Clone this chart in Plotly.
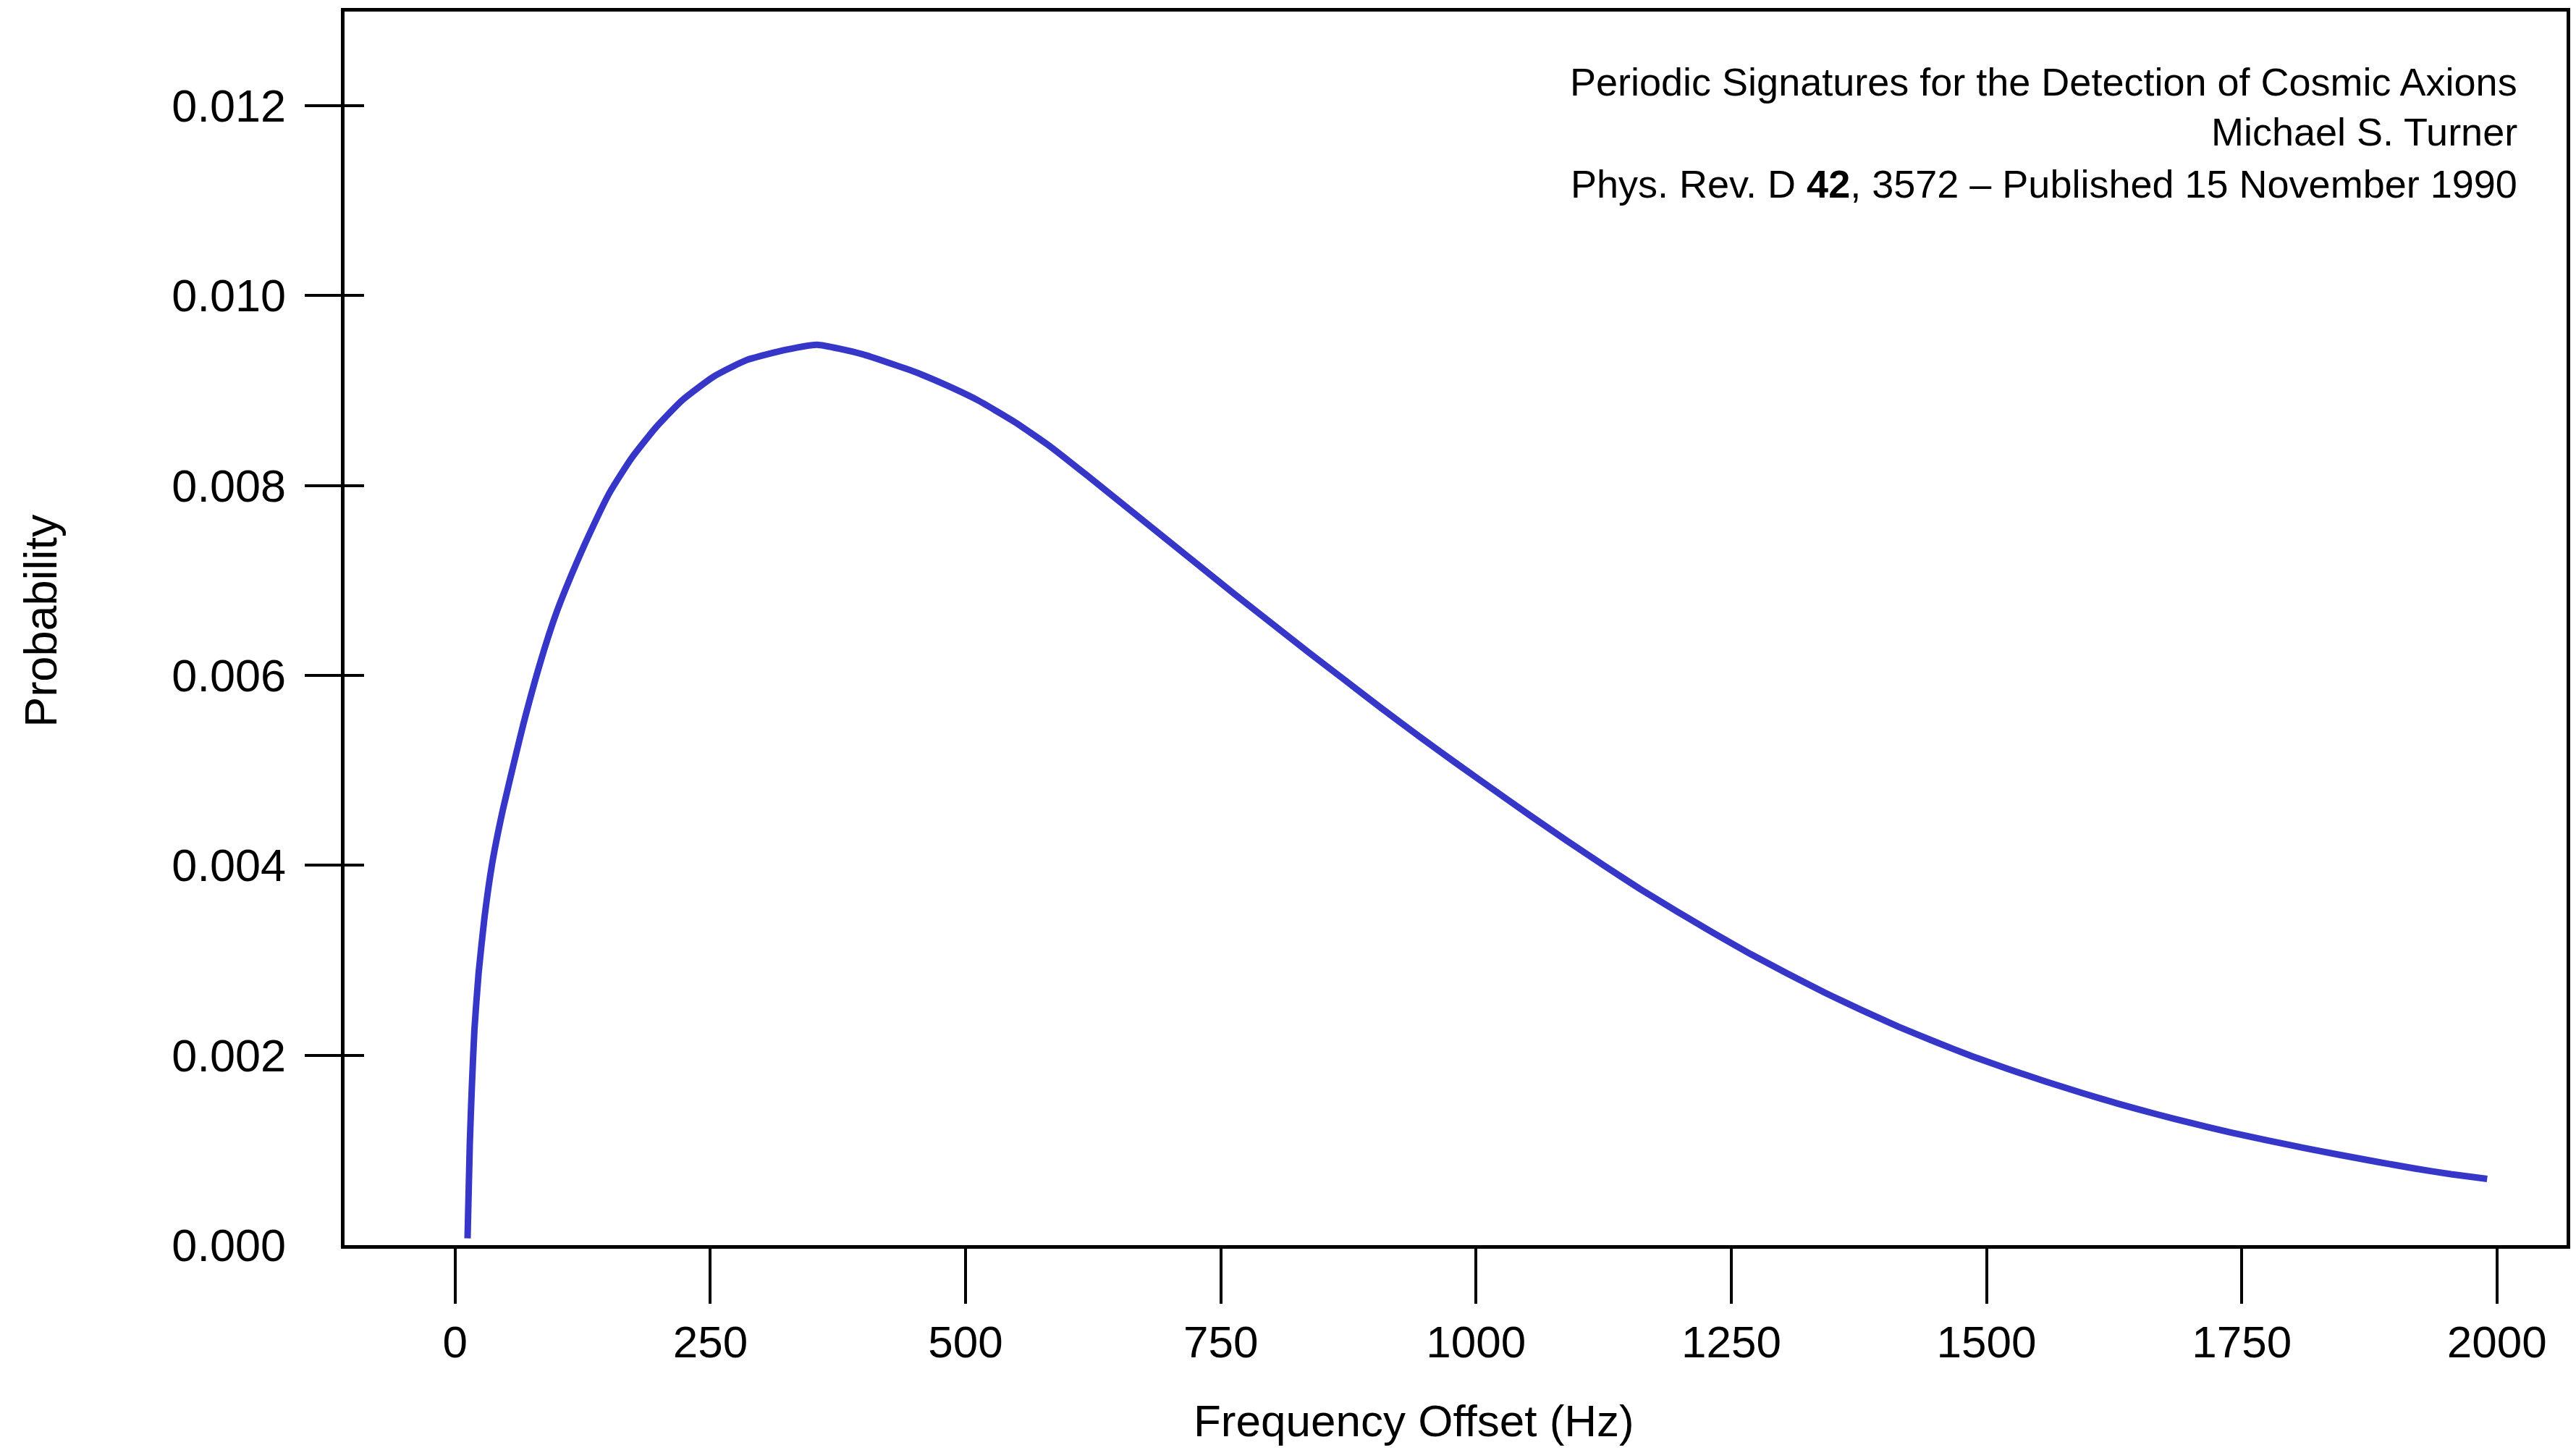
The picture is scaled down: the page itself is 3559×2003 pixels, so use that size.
import plotly.graph_objects as go

# ---- data ----
frequency_hz = [12.2, 14.4, 16.4, 18.9, 23.0, 28.9, 36.3, 46.6, 59.8, 66.9,
                83.9, 99.1, 116.1, 133.1, 151.5, 172.7, 196.8, 222.3, 253.4,
                286.0, 324.2, 354.6, 398.5, 447.3, 474.9, 511.0, 547.1, 583.2,
                619.3, 655.4, 691.5, 727.6, 763.7, 799.8, 835.9, 872.0, 908.1,
                944.2, 980.3, 1016.4, 1052.5, 1088.6, 1124.7, 1160.8, 1196.9,
                1233.0, 1269.1, 1305.2, 1341.3, 1377.4, 1413.5, 1449.6, 1485.7,
                1521.8, 1557.9, 1594.0, 1630.1, 1666.2, 1702.3, 1738.4, 1774.5,
                1810.6, 1846.7, 1882.8, 1918.9, 1955.0, 1990.4]
probability = [0.000071, 0.001068, 0.001666, 0.002264, 0.002862, 0.003460,
               0.004018, 0.004576, 0.005176, 0.005488, 0.006151, 0.006655,
               0.007112, 0.007523, 0.007927, 0.008286, 0.008613, 0.008896,
               0.009147, 0.009322, 0.009429, 0.009482, 0.009383, 0.009208,
               0.009086, 0.008903, 0.008675, 0.008408, 0.008103, 0.007790,
               0.007478, 0.007165, 0.006853, 0.006548, 0.006243, 0.005946,
               0.005648, 0.005359, 0.005077, 0.004802, 0.004528, 0.004261,
               0.004002, 0.003750, 0.003514, 0.003285, 0.003064, 0.002859,
               0.002660, 0.002477, 0.002302, 0.002142, 0.001990, 0.001852,
               0.001723, 0.001601, 0.001486, 0.001380, 0.001281, 0.001189,
               0.001105, 0.001025, 0.000949, 0.000877, 0.000808, 0.000747,
               0.000697]

x_ticks = [0, 250, 500, 750, 1000, 1250, 1500, 1750, 2000]
x_ticktext = ["0", "250", "500", "750", "1000", "1250", "1500", "1750", "2000"]
y_ticks = [0.000, 0.002, 0.004, 0.006, 0.008, 0.010, 0.012]
y_ticktext = ["0.000", "0.002", "0.004", "0.006", "0.008", "0.010", "0.012"]

x_title = "Frequency Offset (Hz)"
y_title = "Probability"
citation_lines = [
    "Periodic Signatures for the Detection of Cosmic Axions",
    "Michael S. Turner",
    "Phys. Rev. D <b>42</b>, 3572 – Published 15 November 1990",
]

# ---- styling ----
FONT = "Liberation Sans, Arial, Helvetica, sans-serif"
X_RANGE = [-108.3, 2068.2]
Y_RANGE = [0.0, 0.01299]
LINE_COLOR = "#3636c8"

fig = go.Figure()
fig.add_trace(go.Scatter(
    x=frequency_hz, y=probability, mode="lines",
    line=dict(color=LINE_COLOR, width=9, shape="spline", smoothing=0.5),
    hoverinfo="skip", showlegend=False,
))
# transparent copies so the overlay axes (inner ticks, labels) get drawn
for ax in ("y2", "y3"):
    fig.add_trace(go.Scatter(
        x=frequency_hz, y=probability, mode="lines", yaxis=ax,
        line=dict(color="rgba(0,0,0,0)", width=0),
        hoverinfo="skip", showlegend=False,
    ))

fig.update_layout(
    width=3559, height=2003,
    margin=dict(l=476, r=8, t=16, b=283),
    paper_bgcolor="white", plot_bgcolor="white",
    font=dict(family=FONT, color="black"),
    xaxis=dict(
        range=X_RANGE, tickvals=x_ticks, ticktext=x_ticktext,
        ticks="outside", ticklen=76, tickwidth=4, tickcolor="black",
        showline=True, linewidth=5, linecolor="black", mirror=True,
        showgrid=False, zeroline=False,
        tickfont=dict(size=62, family=FONT, color="black"),
        ticklabelstandoff=0,
    ),
    yaxis=dict(
        range=Y_RANGE, tickvals=y_ticks[1:],
        ticks="outside", ticklen=50, tickwidth=4, tickcolor="black",
        showticklabels=False,
        showline=True, linewidth=5, linecolor="black", mirror=True,
        showgrid=False, zeroline=False,
    ),
    yaxis2=dict(
        range=Y_RANGE, overlaying="y", side="left", tickvals=y_ticks[1:],
        ticks="inside", ticklen=27, tickwidth=4, tickcolor="black",
        showticklabels=False, showline=False, showgrid=False, zeroline=False,
    ),
    yaxis3=dict(
        range=Y_RANGE, overlaying="y", side="left",
        tickvals=y_ticks, ticktext=y_ticktext, ticks="",
        showline=False, showgrid=False, zeroline=False,
        tickfont=dict(size=63, family=FONT, color="black"),
        ticklabelstandoff=80,
    ),
)

# axis titles
fig.add_annotation(text=x_title, xref="paper", yref="paper",
                   x=0.4813, y=-0.1425, xanchor="center", yanchor="middle",
                   showarrow=False, font=dict(size=62, family=FONT, color="black"))
fig.add_annotation(text=y_title, xref="paper", yref="paper",
                   x=-0.1369, y=0.5065, xanchor="center", yanchor="middle",
                   textangle=-90, showarrow=False,
                   font=dict(size=63, family=FONT, color="black"))

# citation block (top right)
for line, ypos in zip(citation_lines, [0.9431, 0.9027, 0.8603]):
    fig.add_annotation(text=line, xref="paper", yref="paper",
                       x=0.9785, y=ypos, xanchor="right", yanchor="middle",
                       showarrow=False,
                       font=dict(size=54, family=FONT, color="black"))

fig.write_html("out.html")
